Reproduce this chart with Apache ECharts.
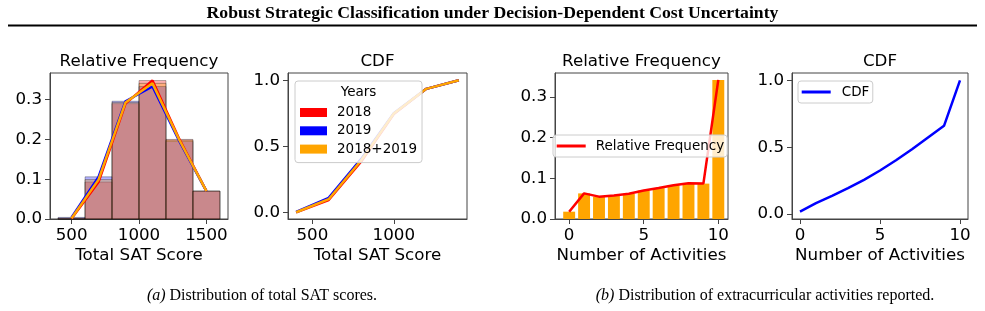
<!DOCTYPE html>
<html>
<head>
<meta charset="utf-8">
<script src="https://cdn.jsdelivr.net/npm/echarts@6/dist/echarts.min.js"></script>
<style>
  html, body { margin: 0; padding: 0; background: #fff; }
  #chart { width: 985px; height: 311px; }
</style>
</head>
<body>
<div id="chart"></div>
<script>
// (a) SAT scores: bin left edges (width 200) and bin centres
const satBins = [400, 600, 800, 1000, 1200, 1400]
const satCenters = [500, 700, 900, 1100, 1300, 1500]
const freq2018 = [0.001, 0.093, 0.29, 0.348, 0.2, 0.07]
const freq2019 = [0.004, 0.106, 0.296, 0.333, 0.195, 0.07]
const freqBoth = [0.002, 0.099, 0.293, 0.341, 0.198, 0.07]
// CDF at bin left edges
const cdf2018 = [0.0, 0.094, 0.385, 0.745, 0.935, 1.0]
const cdf2019 = [0.003, 0.11, 0.405, 0.75, 0.935, 1.0]
const cdfBoth = [0.001, 0.1, 0.395, 0.748, 0.935, 1.0]

// (b) number of extracurricular activities
const activities = [0, 1, 2, 3, 4, 5, 6, 7, 8, 9, 10]
const actFreq = [0.018, 0.063, 0.055, 0.058, 0.062, 0.07, 0.076, 0.083, 0.088, 0.087, 0.342]
const actCdf = [0.018, 0.081, 0.136, 0.194, 0.256, 0.326, 0.402, 0.485, 0.573, 0.66, 1.0]

// tick labels
const satTicks = [500, 1000, 1500]
const satCdfTicks = [500, 1000]
const actTicks = [0, 5, 10]
const freqTicks = [0, 0.1, 0.2, 0.3]
const cdfTicks = [0, 0.5, 1.0]

const font = 'DejaVu Sans'
const serif = 'Liberation Serif'
const spine = '#444'

const grids = [
  { left: 50, top: 73, width: 178, height: 146 },
  { left: 288, top: 73, width: 179, height: 146 },
  { left: 555, top: 73, width: 173, height: 146 },
  { left: 792, top: 73, width: 176, height: 146 }
].map(g => ({ ...g, show: true, borderColor: spine, borderWidth: 1 }))

const makeX = (i, min, max, ticks, name) => ({
  type: 'value', gridIndex: i, min, max,
  name, nameLocation: 'middle', nameGap: 28,
  nameTextStyle: { fontFamily: font, fontSize: 16.7, color: '#000' },
  axisLine: { onZero: false, lineStyle: { color: spine, width: 1 } },
  axisTick: { customValues: ticks, length: 5, lineStyle: { color: spine } },
  axisLabel: {
    customValues: ticks, margin: 8, fontFamily: font, fontSize: 16.7, color: '#000',
    formatter: v => String(v)
  },
  splitLine: { show: false }
})

const makeY = (i, min, max, ticks) => ({
  type: 'value', gridIndex: i, min, max,
  axisLine: { show: true, onZero: false, lineStyle: { color: spine, width: 1 } },
  axisTick: { show: true, customValues: ticks, length: 5, lineStyle: { color: spine } },
  axisLabel: {
    customValues: ticks, margin: 8, fontFamily: font, fontSize: 16.7, color: '#000',
    formatter: v => v.toFixed(1)
  },
  splitLine: { show: false }
})

// histogram bars drawn through the axis scales
const histSeries = (name, values, color) => ({
  name, type: 'custom', xAxisIndex: 0, yAxisIndex: 0,
  encode: { x: 0, y: 1 },
  data: satBins.map((x, i) => [x, values[i]]),
  renderItem: (params, api) => {
    const w = satBins[1] - satBins[0]
    const p0 = api.coord([api.value(0), api.value(1)])
    const p1 = api.coord([api.value(0) + w, 0])
    return {
      type: 'rect',
      shape: { x: p0[0], y: p0[1], width: p1[0] - p0[0], height: p1[1] - p0[1] },
      style: { fill: color, stroke: 'rgba(0,0,0,0.3)', lineWidth: 1 }
    }
  }
})

const lineSeries = (name, xs, ys, color, idx) => ({
  name, type: 'line', xAxisIndex: idx, yAxisIndex: idx,
  data: xs.map((x, i) => [x, ys[i]]),
  showSymbol: false, symbol: 'none',
  lineStyle: { color, width: 2.5 }, itemStyle: { color },
  z: 3
})

const legendBox = {
  backgroundColor: 'rgba(255,255,255,0.8)',
  borderColor: '#cccccc', borderWidth: 1, borderRadius: 3,
  orient: 'vertical', selectedMode: false
}
const legendText = { fontFamily: font, fontSize: 13.5, color: '#000', lineHeight: 15 }

const text = (str, x, y, size) => ({
  type: 'text', z: 100,
  style: { text: str, x, y, align: 'center', verticalAlign: 'middle', fontFamily: font, fontSize: size, fill: '#000' }
})

const caption = (label, rest, x) => ({
  type: 'text', z: 100,
  style: {
    text: '{i|' + label + '} ' + rest, x, y: 296, align: 'center', verticalAlign: 'middle',
    fontFamily: serif, fontSize: 16, fill: '#000',
    rich: { i: { fontFamily: serif, fontSize: 16, fontStyle: 'italic', fill: '#000' } }
  }
})

const option = {
  animation: false,
  backgroundColor: '#fff',
  grid: grids,
  xAxis: [
    makeX(0, 340, 1660, satTicks, 'Total SAT Score'),
    makeX(1, 350, 1450, satCdfTicks, 'Total SAT Score'),
    makeX(2, -0.95, 10.65, actTicks, 'Number of Activities'),
    makeX(3, -0.5, 10.5, actTicks, 'Number of Activities')
  ],
  yAxis: [
    makeY(0, 0, 0.367, freqTicks),
    makeY(1, -0.05, 1.055, cdfTicks),
    makeY(2, 0, 0.359, freqTicks),
    makeY(3, -0.037, 1.055, cdfTicks)
  ],
  legend: [
    {
      ...legendBox, left: 295, top: 81,
      padding: [24, 5, 6, 5], itemGap: 3.3, itemWidth: 27, itemHeight: 9, icon: 'rect',
      textStyle: { ...legendText, padding: [0, 0, 0, 5] },
      data: [
        { name: '2018', itemStyle: { color: '#ff0000', opacity: 1, borderWidth: 0 } },
        { name: '2019', itemStyle: { color: '#0000ff', opacity: 1, borderWidth: 0 } },
        { name: '2018+2019', itemStyle: { color: '#ffa500', opacity: 1, borderWidth: 0 } }
      ]
    },
    {
      ...legendBox, left: 553, top: 135,
      padding: [3.5, 3, 3.5, 3.7], itemWidth: 29, itemHeight: 3, icon: 'rect',
      textStyle: { ...legendText, padding: [0, 0, 0, 5] },
      data: [{ name: 'Relative Frequency', itemStyle: { color: '#ff0000' } }]
    },
    {
      ...legendBox, left: 798, top: 81,
      padding: [3.5, 3.5, 3.5, 3.7], itemWidth: 29, itemHeight: 3, icon: 'rect',
      textStyle: { ...legendText, padding: [0, 0, 0, 6] },
      data: [{ name: 'CDF', itemStyle: { color: '#0000ff' } }]
    }
  ],
  graphic: [
    {
      type: 'text', z: 100,
      style: {
        text: 'Robust Strategic Classification under Decision-Dependent Cost Uncertainty',
        x: 492.5, y: 13.5, align: 'center', verticalAlign: 'middle',
        fontFamily: serif, fontWeight: 'bold', fontSize: 17.7, fill: '#000'
      }
    },
    { type: 'line', z: 100, shape: { x1: 8, y1: 25.5, x2: 977, y2: 25.5 }, style: { stroke: '#000', lineWidth: 2 } },
    text('Relative Frequency', 139, 61.7, 16.7),
    text('CDF', 377.5, 61.7, 16.7),
    text('Relative Frequency', 641.5, 61.7, 16.7),
    text('CDF', 880, 61.7, 16.7),
    text('Years', 358.5, 92.7, 13.5),
    caption('(a)', 'Distribution of total SAT scores.', 262),
    caption('(b)', 'Distribution of extracurricular activities reported.', 765)
  ],
  series: [
    histSeries('2018', freq2018, 'rgba(255,0,0,0.3)'),
    histSeries('2019', freq2019, 'rgba(0,0,255,0.3)'),
    histSeries('2018+2019', freqBoth, 'rgba(255,165,0,0.3)'),
    lineSeries('2018', satCenters, freq2018, '#ff0000', 0),
    lineSeries('2019', satCenters, freq2019, '#0000ff', 0),
    lineSeries('2018+2019', satCenters, freqBoth, '#ffa500', 0),
    lineSeries('2018', satBins, cdf2018, '#ff0000', 1),
    lineSeries('2019', satBins, cdf2019, '#0000ff', 1),
    lineSeries('2018+2019', satBins, cdfBoth, '#ffa500', 1),
    {
      name: 'counts', type: 'custom', xAxisIndex: 2, yAxisIndex: 2,
      encode: { x: 0, y: 1 },
      data: activities.map((a, i) => [a, actFreq[i]]),
      renderItem: (params, api) => {
        const p0 = api.coord([api.value(0) - 0.4, api.value(1)])
        const p1 = api.coord([api.value(0) + 0.4, 0])
        return {
          type: 'rect',
          shape: { x: p0[0], y: p0[1], width: p1[0] - p0[0], height: p1[1] - p0[1] },
          style: { fill: '#ffa500' }
        }
      }
    },
    lineSeries('Relative Frequency', activities, actFreq, '#ff0000', 2),
    lineSeries('CDF', activities, actCdf, '#0000ff', 3)
  ]
}

const myChart = echarts.init(document.getElementById('chart'))
option && myChart.setOption(option)
</script>
</body>
</html>
